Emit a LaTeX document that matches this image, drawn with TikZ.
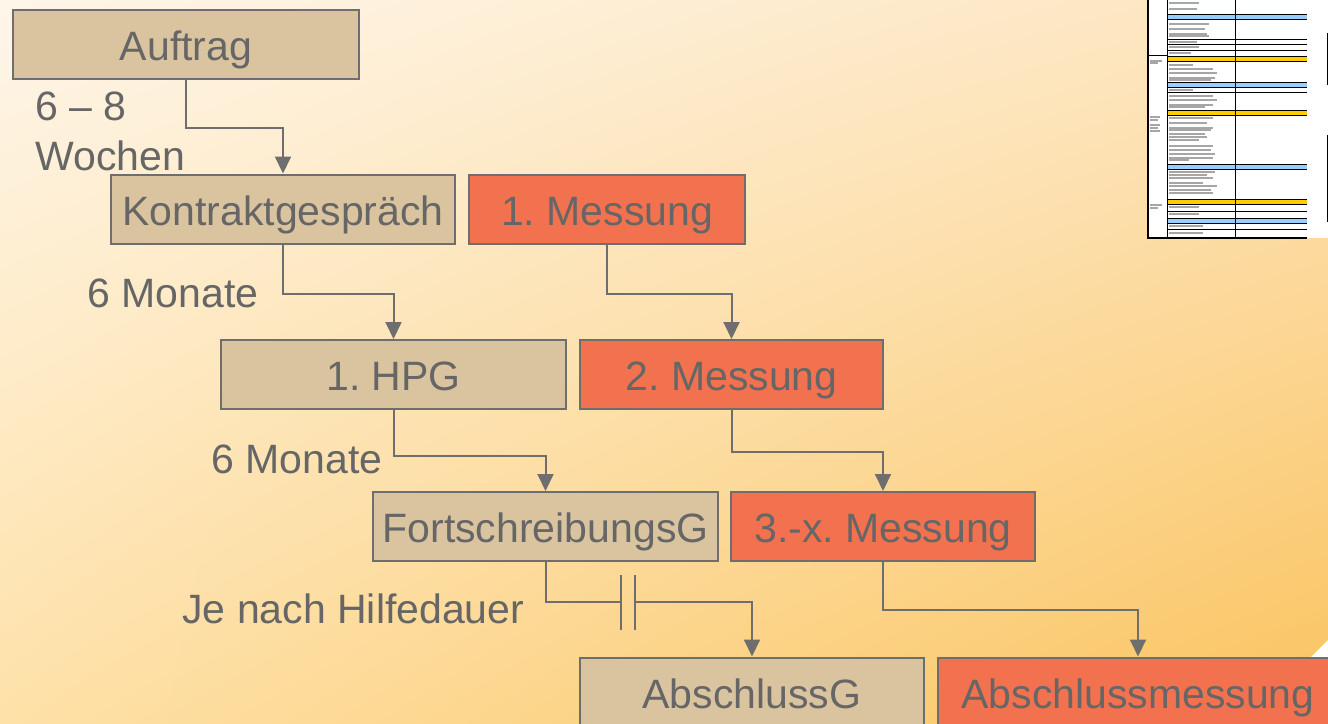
\documentclass[tikz,border=0pt]{standalone}
\usepackage{fontspec}
\setmainfont{Liberation Sans}
\usetikzlibrary{arrows.meta,shadings}
\frenchspacing
\definecolor{tanfill}{HTML}{DAC4A0}
\definecolor{redfill}{HTML}{F2724F}
\definecolor{edgegray}{HTML}{6E6E6E}
\definecolor{textgray}{HTML}{666666}
\definecolor{bgtl}{HTML}{FEF6EA}
\definecolor{bgtr}{HTML}{FDE5BE}
\definecolor{bgbl}{HTML}{FEE1A8}
\definecolor{bgbr}{HTML}{FAC35E}
\definecolor{tblblue}{HTML}{99CCFF}
\definecolor{tblyellow}{HTML}{FFCC00}
\newcommand{\boxfont}{\fontsize{20.5pt}{25pt}\selectfont}
\newcommand{\tblband}[3]{\fill[#3] (1167,{#1}) rectangle (1307,{#2}); \draw[tblrule] (1167,{#1}) -- (1307,{#1}) (1167,{#2}) -- (1307,{#2});}
\tikzset{
  plan/.style={draw=edgegray, line width=1pt, minimum height=34.5pt, inner sep=0pt,
    text=textgray, font=\boxfont, text height=16pt, text depth=0pt},
  hpgbox/.style={plan, fill=tanfill},
  messbox/.style={plan, fill=redfill},
  conn/.style={draw=edgegray, line width=1pt, -{Triangle[width=8pt,length=8.5pt]}},
  gapbar/.style={draw=edgegray, line width=1pt},
  lbl/.style={text=textgray, font=\boxfont, inner sep=0pt},
  tblrule/.style={draw=black, line width=0.5pt},
  tbltext/.style={draw=black!35, line width=0.6pt},
}

\begin{document}
\begin{tikzpicture}[x=0.5pt,y=-0.5pt]
  \useasboundingbox (0,0) rectangle (1328,723);
  \clip (0,0) rectangle (1328,723);
  \shade[upper left=bgtl, upper right=bgtr, lower left=bgbl, lower right=bgbr] (0,0) rectangle (1328,723);
  \fill[white] (1311,657) -- (1328,640) -- (1328,657) -- cycle;

  % table in the corner
  \fill[white] (1148,0) rectangle (1328,238);
  \tblband{14}{19}{tblblue}\tblband{56}{61}{tblyellow}\tblband{82}{87}{tblblue}\tblband{110}{115}{tblyellow}
  \tblband{164}{169}{tblblue}\tblband{199}{204}{tblyellow}\tblband{218}{223}{tblblue}
  \foreach \y in {39,44,50,92,211,229} \draw[tblrule] (1167,\y) -- (1307,\y);
  \draw[tblrule] (1148,55) -- (1167,55) (1167,0) -- (1167,238) (1235,0) -- (1235,238);
  \draw[tblrule] (1327,33) -- (1327,85) (1327,135) -- (1327,222);
  \draw[black, line width=1pt] (1148,0) -- (1148,238) -- (1307,238);
  \foreach \y/\l in {3/30,9/28,24/40,29/36,34/38,36/40,42/28,47/30,53/22,65/24,69/44,73/48,78/46,80/42,
    90/24,96/44,100/48,105/44,107/36,118/44,123/38,128/44,130/42,134/36,137/38,140/30,146/44,150/42,
    154/46,158/44,160/20,172/46,175/38,178/44,183/34,186/48,190/42,193/44,207/30,214/30,226/34,233/34}
    \draw[tbltext] (1169,\y) -- ++(\l,0);
  \foreach \y/\l in {61/12,63/8,117/10,120/8,125/10,128/8,131/10,205/12,208/8}
    \draw[tbltext] (1150,\y) -- ++(\l,0);

  % boxes
  \node[hpgbox, minimum width=173pt] (auftrag) at (186,44) {Auftrag};
  \node[hpgbox, minimum width=172pt] (kontrakt) at (283,209) {Kontraktgespräch};
  \node[messbox, minimum width=138pt] (messA) at (607,209) {1. Messung};
  \node[hpgbox, minimum width=172.5pt] (hpg) at (393.5,374.5) {1. HPG};
  \node[messbox, minimum width=151.5pt] (messB) at (731.5,374.5) {2. Messung};
  \node[hpgbox, minimum width=172.5pt] (forts) at (545.5,526.5) {FortschreibungsG};
  \node[messbox, minimum width=152pt] (messC) at (883,526.5) {3.-x. Messung};
  \node[hpgbox, minimum width=172pt] (abschluss) at (752,692) {AbschlussG};
  \node[messbox, minimum width=200pt] (abmess) at (1138,692) {Abschlussmessung};

  % labels
  \node[lbl, align=left, anchor=north west] (wochen) at (35,91) {6 – 8\\Wochen};
  \node[lbl, anchor=base west] (monateA) at (87,307) {6 Monate};
  \node[lbl, anchor=base west] (monateB) at (211,473) {6 Monate};
  \node[lbl, anchor=base west] (hilfe) at (182,623) {Je nach Hilfedauer};

  % connectors
  \draw[conn] (auftrag.south) -- ++(0,48) -| (kontrakt.north);
  \draw[conn] (kontrakt.south) -- ++(0,49) -| (hpg.north);
  \draw[conn] (messA.south) -- ++(0,49) -| (messB.north);
  \draw[conn] (hpg.south) -- ++(0,46) -| (forts.north);
  \draw[conn] (messB.south) -- ++(0,42) -| (messC.north);
  \draw[conn] (messC.south) -- ++(0,48) -| (abmess.north);
  \coordinate (gapL) at (621,602);
  \coordinate (gapR) at (635,602);
  \draw[gapbar] (forts.south) |- (gapL);
  \draw[gapbar] (gapL) ++(0,-27) -- ++(0,55) (gapR) ++(0,-27) -- ++(0,55);
  \draw[conn] (gapR) -| (abschluss.north);
\end{tikzpicture}
\end{document}
